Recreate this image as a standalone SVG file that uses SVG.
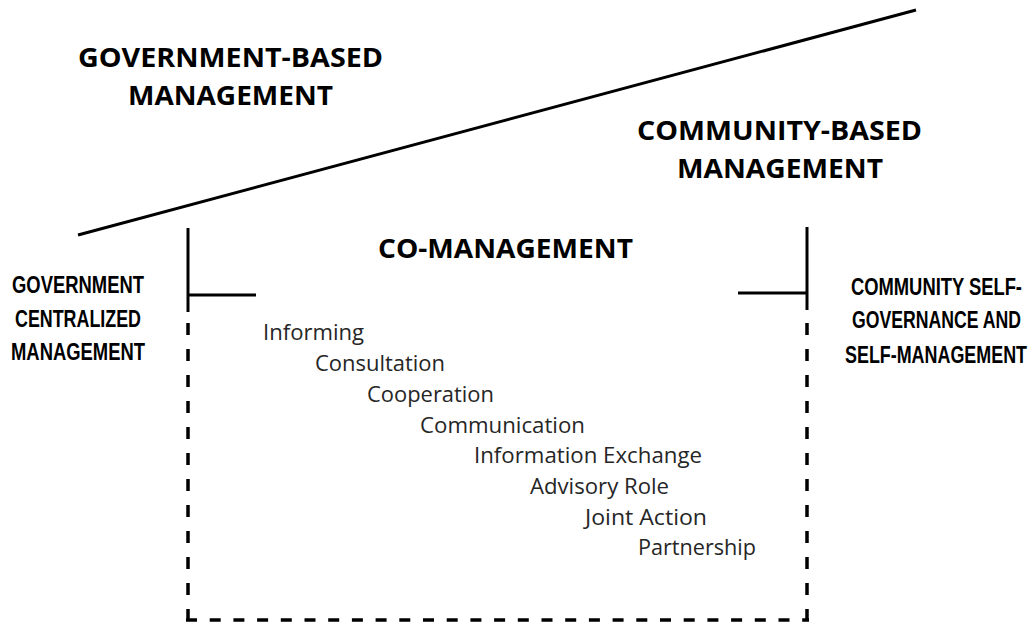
<svg xmlns="http://www.w3.org/2000/svg" width="1032" height="624" viewBox="0 0 1032 624">
<style>
.title{font-family:"Open Sans","Liberation Sans",sans-serif;font-weight:700;font-size:27px;fill:#000}
.cond{font-family:"Liberation Sans",sans-serif;font-weight:700;font-size:18px;fill:#000}
.item{font-family:"Open Sans","Liberation Sans",sans-serif;font-size:22px;fill:#262626}
.solid{stroke:#000;stroke-width:3;fill:none}
.dash{stroke:#000;stroke-width:3.5;fill:none}
</style>
<rect width="1032" height="624" fill="#fff"/>
<g id="connectors">
<line class="solid" x1="78" y1="235" x2="916" y2="10"/>
<line class="solid" x1="188" y1="228" x2="188" y2="312"/>
<line class="solid" x1="188" y1="295" x2="256" y2="295"/>
<line class="solid" x1="807" y1="227" x2="807" y2="310"/>
<line class="solid" x1="738" y1="293" x2="807" y2="293"/>
<line class="dash" x1="188" y1="323" x2="188" y2="620" stroke-dasharray="12 14"/>
<line class="dash" x1="807" y1="323" x2="807" y2="620" stroke-dasharray="12 14"/>
<line class="dash" x1="186" y1="620" x2="809" y2="620" stroke-dasharray="11 12.7"/>
</g>
<g id="gov-based">
<text class="title" x="78" y="67" textLength="305" lengthAdjust="spacingAndGlyphs">GOVERNMENT-BASED</text>
<text class="title" x="128" y="105" textLength="205" lengthAdjust="spacingAndGlyphs">MANAGEMENT</text>
</g>
<g id="community-based">
<text class="title" x="637" y="140" textLength="285" lengthAdjust="spacingAndGlyphs">COMMUNITY-BASED</text>
<text class="title" x="677" y="178" textLength="206" lengthAdjust="spacingAndGlyphs">MANAGEMENT</text>
</g>
<g id="co-management">
<text class="title" x="378" y="258" textLength="255" lengthAdjust="spacingAndGlyphs">CO-MANAGEMENT</text>
</g>
<g id="gov-centralized">
<text class="cond" transform="translate(12,293) scale(1,1.36)" textLength="132" lengthAdjust="spacingAndGlyphs">GOVERNMENT</text>
<text class="cond" transform="translate(15,327) scale(1,1.36)" textLength="126" lengthAdjust="spacingAndGlyphs">CENTRALIZED</text>
<text class="cond" transform="translate(11,360) scale(1,1.36)" textLength="134" lengthAdjust="spacingAndGlyphs">MANAGEMENT</text>
</g>
<g id="community-self">
<text class="cond" transform="translate(851,295) scale(1,1.36)" textLength="171" lengthAdjust="spacingAndGlyphs">COMMUNITY SELF-</text>
<text class="cond" transform="translate(852,328) scale(1,1.36)" textLength="169" lengthAdjust="spacingAndGlyphs">GOVERNANCE AND</text>
<text class="cond" transform="translate(845,363) scale(1,1.36)" textLength="182" lengthAdjust="spacingAndGlyphs">SELF-MANAGEMENT</text>
</g>
<g id="items">
<text class="item" x="263" y="340" textLength="101" lengthAdjust="spacingAndGlyphs">Informing</text>
<text class="item" x="315" y="371" textLength="130" lengthAdjust="spacingAndGlyphs">Consultation</text>
<text class="item" x="367" y="402" textLength="127" lengthAdjust="spacingAndGlyphs">Cooperation</text>
<text class="item" x="420" y="433" textLength="165" lengthAdjust="spacingAndGlyphs">Communication</text>
<text class="item" x="474" y="463" textLength="228" lengthAdjust="spacingAndGlyphs">Information Exchange</text>
<text class="item" x="530" y="494" textLength="139" lengthAdjust="spacingAndGlyphs">Advisory Role</text>
<text class="item" x="585" y="525" textLength="122" lengthAdjust="spacingAndGlyphs">Joint Action</text>
<text class="item" x="638" y="555" textLength="118" lengthAdjust="spacingAndGlyphs">Partnership</text>
</g>
</svg>
